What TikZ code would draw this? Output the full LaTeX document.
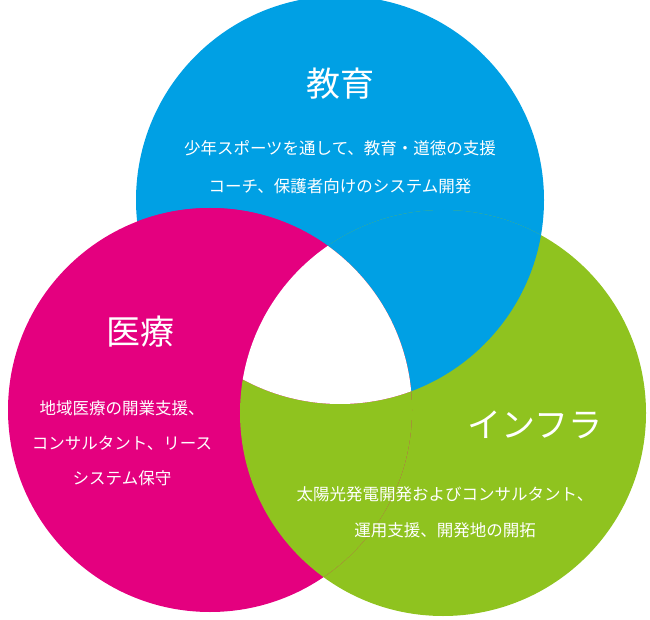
\documentclass[tikz,border=0pt]{standalone}
\usepackage{fontspec}
\setmainfont{Noto Sans CJK JP}
\definecolor{cblue}{HTML}{00A0E4}
\definecolor{cpink}{HTML}{E4007F}
\definecolor{cgreen}{HTML}{8FC31F}
\begin{document}
\begin{tikzpicture}[x=1pt,y=-1pt,
  title/.style={text=white,font=\fontsize{34}{40}\selectfont},
  body/.style={text=white,font=\fontsize{16.5}{20}\selectfont}]
\useasboundingbox (0,0) rectangle (650,620);
\def\B{(340,200) circle[radius=204]}
\def\P{(210,410) circle[radius=202]}
\def\G{(443,413) circle[radius=203]}
\fill[cblue] \B;
\fill[cgreen] \G;
\fill[cpink] \P;
\begin{scope}\clip \G; \fill[cblue] \B; \end{scope}
\begin{scope}\clip \P; \fill[cgreen] \G; \end{scope}
\begin{scope}\clip \B; \fill[cpink] \P; \end{scope}
\begin{scope}\clip \B; \clip \P; \fill[white] \G; \end{scope}
\node[title] (t1) at (340,84) {教育};
\node[body] (b1a) at (340,148) {少年スポーツを通して、教育・道徳の支援};
\node[body] (b1b) at (340,186) {コーチ、保護者向けのシステム開発};
\node[title] (t2) at (140,332) {医療};
\node[body] (b2a) at (122,408) {地域医療の開業支援、};
\node[body] (b2b) at (122,443) {コンサルタント、リース};
\node[body] (b2c) at (122,478) {システム保守};
\node[title] (t3) at (535,425) {インフラ};
\node[body] (b3a) at (445,494) {太陽光発電開発およびコンサルタント、};
\node[body] (b3b) at (445,530) {運用支援、開発地の開拓};
\end{tikzpicture}
\end{document}
